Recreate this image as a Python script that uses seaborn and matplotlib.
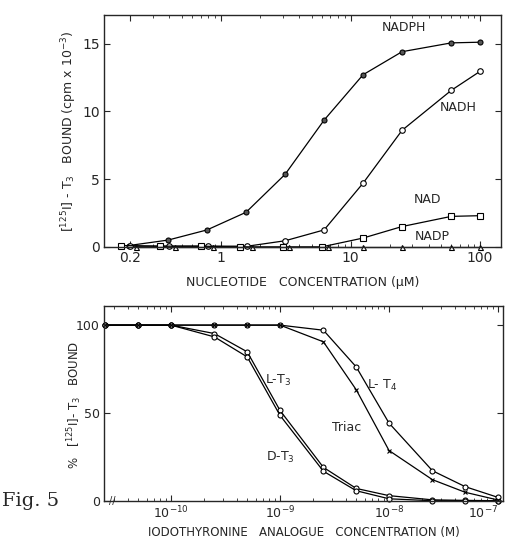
import numpy as np
import pandas as pd
import seaborn as sns
import matplotlib
matplotlib.use('Agg')
import matplotlib.pyplot as plt
from matplotlib.ticker import FixedLocator, LogLocator, NullFormatter

sns.set_style('ticks')
plt.rcParams['font.family'] = ['DejaVu Sans']
plt.rcParams['mathtext.default'] = 'regular'

# top panel: nucleotide concentration (uM) vs bound (cpm x 10^-3)
conc_nadph = [0.195, 0.39, 0.78, 1.56, 3.125, 6.25, 12.5, 25, 60, 100]
nadph = [0.1, 0.5, 1.25, 2.55, 5.35, 9.35, 12.7, 14.4, 15.05, 15.1]
conc_nadh = [0.2, 0.4, 0.8, 1.6, 3.125, 6.25, 12.5, 25, 60, 100]
nadh = [0.05, 0.05, 0.05, 0.05, 0.45, 1.25, 4.7, 8.6, 11.55, 12.95]
conc_nad = [0.17, 0.34, 0.7, 1.4, 3.0, 6.0, 12.5, 25, 60, 100]
nad = [0.1, 0.05, 0.05, 0.0, 0.0, 0.0, 0.65, 1.5, 2.25, 2.3]
conc_nadp = [0.22, 0.44, 0.87, 1.75, 3.35, 6.7, 12.5, 25, 60, 100]
nadp = [0, 0, 0, 0, 0, 0, 0, 0, 0, 0]

# bottom panel: analogue concentration (M) vs % bound
conc_analogue = [2.5e-11, 5e-11, 1e-10, 2.5e-10, 5e-10, 1e-9, 2.5e-9, 5e-9, 1e-8, 2.5e-8, 5e-8, 1e-7]
l_t3 = [100, 100, 100, 95.2, 84.8, 51.4, 19.0, 7.0, 2.9, 0.5, 0.2, 0.0]
d_t3 = [100, 100, 100, 93.3, 81.9, 48.6, 16.8, 5.7, 1.1, 0.0, 0.0, 0.0]
l_t4 = [100, 100, 100, 100, 100, 100, 97.1, 76.2, 44.2, 17.1, 8.0, 1.9]
triac = [100, 100, 100, 100, 100, 100, 90.5, 63.2, 28.6, 12.0, 4.8, 0.4]

fig = plt.figure(figsize=(5.05, 5.39), dpi=100)
ax1 = fig.add_axes([0.206, 0.542, 0.786, 0.430])
ax2 = fig.add_axes([0.206, 0.071, 0.790, 0.361])

top_series = [
    (conc_nadph, nadph, 'o', '#555555', 3.6),
    (conc_nadh, nadh, 'o', 'white', 4.0),
    (conc_nad, nad, 's', 'white', 4.6),
    (conc_nadp, nadp, '^', 'white', 3.6),
]
for xs, ys, mk, fc, ms in top_series:
    d = pd.DataFrame({'x': xs, 'y': ys})
    sns.lineplot(data=d, x='x', y='y', ax=ax1, color='black', linewidth=0.9,
                 marker=mk, markersize=ms, markerfacecolor=fc,
                 markeredgecolor='black', markeredgewidth=0.8, clip_on=False)

ax1.set_xscale('log')
ax1.set_xlim(0.125, 145)
ax1.set_ylim(0, 17.1)
ax1.xaxis.set_major_locator(FixedLocator([0.2, 1, 10, 100]))
ax1.set_xticklabels(['0.2', '1', '10', '100'])
ax1.xaxis.set_minor_locator(LogLocator(base=10, subs=np.arange(2, 10)))
ax1.xaxis.set_minor_formatter(NullFormatter())
ax1.set_yticks([0, 5, 10, 15])
ax1.tick_params(which='both', direction='in', top=True, right=True, labelsize=10, pad=3)
ax1.tick_params(which='major', length=4)
ax1.tick_params(which='minor', length=2.5)
ax1.set_xlabel('NUCLEOTIDE   CONCENTRATION (\u03bcM)', fontsize=9)
ax1.xaxis.set_label_coords(0.5, -0.125)
ax1.set_ylabel('[$^{125}$I] - T$_3$   BOUND (cpm x 10$^{-3}$)', fontsize=9)
ax1.yaxis.set_label_coords(-0.062, 0.5)

ax1.text(0.756, 0.948, 'NADPH', transform=ax1.transAxes, ha='center', va='center', fontsize=9)
ax1.text(0.892, 0.603, 'NADH', transform=ax1.transAxes, ha='center', va='center', fontsize=9)
ax1.text(0.814, 0.203, 'NAD', transform=ax1.transAxes, ha='center', va='center', fontsize=9)
ax1.text(0.826, 0.043, 'NADP', transform=ax1.transAxes, ha='center', va='center', fontsize=9)

bottom_series = [
    (l_t3, 'o', 'white', 3.6),
    (d_t3, 'o', 'white', 3.6),
    (l_t4, 'o', 'white', 3.6),
    (triac, 'x', 'black', 3.2),
]
for ys, mk, fc, ms in bottom_series:
    d = pd.DataFrame({'x': conc_analogue, 'y': ys})
    sns.lineplot(data=d, x='x', y='y', ax=ax2, color='black', linewidth=0.9,
                 marker=mk, markersize=ms, markerfacecolor=fc,
                 markeredgecolor='black', markeredgewidth=0.8, clip_on=False)

ax2.set_xscale('log')
ax2.set_xlim(2.43e-11, 1.11e-7)
ax2.set_ylim(0, 110.8)
ax2.xaxis.set_major_locator(FixedLocator([1e-10, 1e-9, 1e-8, 1e-7]))
ax2.set_xticklabels(['10$^{-10}$', '10$^{-9}$', '10$^{-8}$', '10$^{-7}$'])
ax2.get_xticklabels()[-1].set_ha('right')
ax2.xaxis.set_minor_locator(LogLocator(base=10, subs=np.arange(2, 10)))
ax2.xaxis.set_minor_formatter(NullFormatter())
ax2.set_yticks([0, 50, 100])
ax2.tick_params(which='both', direction='in', top=True, right=True, labelsize=9, pad=3)
ax2.tick_params(which='major', length=4)
ax2.tick_params(which='minor', length=2.5)
ax2.set_xlabel('IODOTHYRONINE   ANALOGUE   CONCENTRATION (M)', fontsize=8.5)
ax2.xaxis.set_label_coords(0.5, -0.128)
ax2.set_ylabel('%   [$^{125}$I]- T$_3$   BOUND', fontsize=8.5)
ax2.yaxis.set_label_coords(-0.05, 0.49)

ax2.text(0.436, 0.62, 'L-T$_3$', transform=ax2.transAxes, ha='center', va='center', fontsize=9)
ax2.text(0.441, 0.224, 'D-T$_3$', transform=ax2.transAxes, ha='center', va='center', fontsize=9)
ax2.text(0.697, 0.594, 'L- T$_4$', transform=ax2.transAxes, ha='center', va='center', fontsize=9)
ax2.text(0.609, 0.378, 'Triac', transform=ax2.transAxes, ha='center', va='center', fontsize=9)
ax2.text(0.02, 0.0, '//', transform=ax2.transAxes, ha='center', va='center', fontsize=7)

for ax in (ax1, ax2):
    for sp in ax.spines.values():
        sp.set_linewidth(1.0)

fig.text(0.004, 0.071, 'Fig. 5', family='DejaVu Serif', fontsize=14, va='center')

fig.savefig('out.png', dpi=100)
